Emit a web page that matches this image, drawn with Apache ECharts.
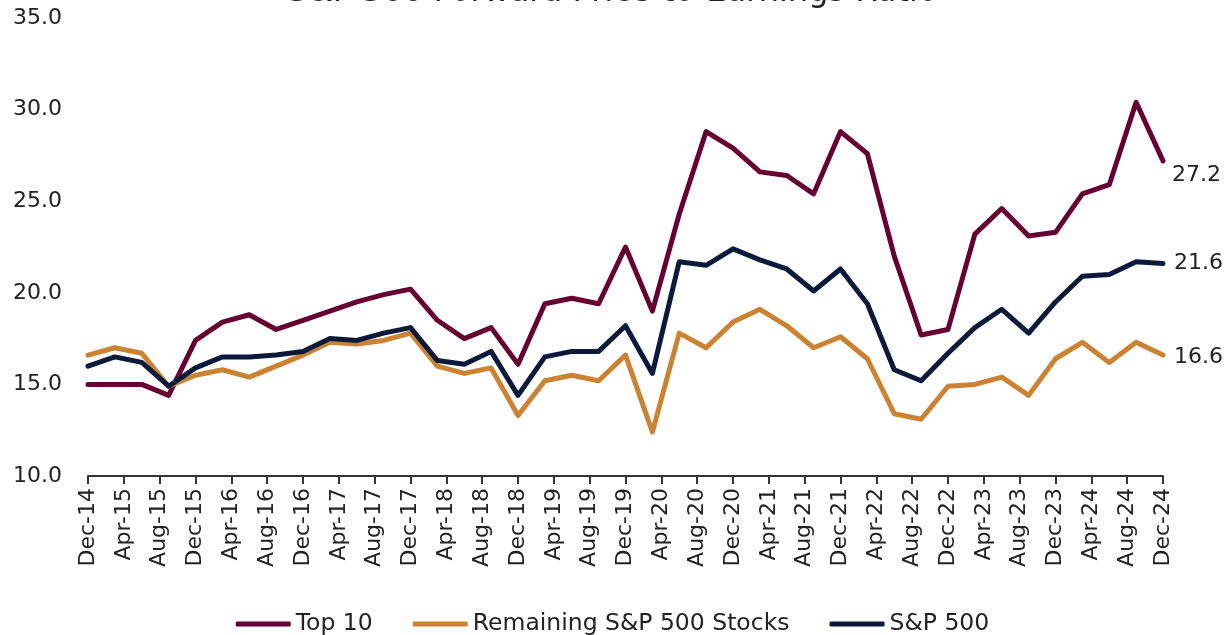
<!DOCTYPE html>
<html>
<head>
<meta charset="utf-8">
<title>S&amp;P 500 Forward Price-to-Earnings Ratio</title>
<script src="https://cdn.jsdelivr.net/npm/echarts@6/dist/echarts.min.js"></script>
<style>
  html, body { margin: 0; padding: 0; background: #fff; }
  #chart { width: 1225px; height: 635px; }
</style>
</head>
<body>
<div id="chart"></div>
<script>
// x axis tick labels, every 4 months from Dec-14 to Dec-24
var tickLabels = [
  'Dec-14', 'Apr-15', 'Aug-15', 'Dec-15', 'Apr-16', 'Aug-16', 'Dec-16', 'Apr-17',
  'Aug-17', 'Dec-17', 'Apr-18', 'Aug-18', 'Dec-18', 'Apr-19', 'Aug-19', 'Dec-19',
  'Apr-20', 'Aug-20', 'Dec-20', 'Apr-21', 'Aug-21', 'Dec-21', 'Apr-22', 'Aug-22',
  'Dec-22', 'Apr-23', 'Aug-23', 'Dec-23', 'Apr-24', 'Aug-24', 'Dec-24'
];

// quarterly values, Dec-14 .. Dec-24 (41 quarters)
var top10 = [
  15.0, 15.0, 15.0, 14.4, 17.4, 18.4, 18.8, 18.0, 18.5, 19.0, 19.5, 19.9, 20.2, 18.5,
  17.5, 18.1, 16.1, 19.4, 19.7, 19.4, 22.5, 19.0, 24.3, 28.8, 27.9, 26.6, 26.4, 25.4,
  28.8, 27.6, 22.0, 17.7, 18.0, 23.2, 24.6, 23.1, 23.3, 25.4, 25.9, 30.4, 27.2
];
var remaining = [
  16.6, 17.0, 16.7, 14.9, 15.5, 15.8, 15.4, 16.0, 16.6, 17.3, 17.2, 17.4, 17.8, 16.0,
  15.6, 15.9, 13.3, 15.2, 15.5, 15.2, 16.6, 12.4, 17.8, 17.0, 18.4, 19.1, 18.2, 17.0,
  17.6, 16.4, 13.4, 13.1, 14.9, 15.0, 15.4, 14.4, 16.4, 17.3, 16.2, 17.3, 16.6
];
var sp500 = [
  16.0, 16.5, 16.2, 14.9, 15.9, 16.5, 16.5, 16.6, 16.8, 17.5, 17.4, 17.8, 18.1, 16.3,
  16.1, 16.8, 14.4, 16.5, 16.8, 16.8, 18.2, 15.6, 21.7, 21.5, 22.4, 21.8, 21.3, 20.1,
  21.3, 19.4, 15.8, 15.2, 16.7, 18.1, 19.1, 17.8, 19.5, 20.9, 21.0, 21.7, 21.6
];

// months since Dec-14 for each quarter
function toPoints(arr) {
  return arr.map(function (v, i) { return [i * 3, v]; });
}

var FONT = 'DejaVu Sans';
var TEXT = '#222222';

function makeSeries(name, data, color, labelOffset) {
  return {
    name: name,
    type: 'line',
    data: toPoints(data),
    showSymbol: false,
    symbol: 'none',
    lineStyle: { color: color, width: 5, join: 'round', cap: 'round' },
    itemStyle: { color: color },
    endLabel: {
      show: true,
      formatter: function (p) { return p.value[1].toFixed(1); },
      color: TEXT,
      fontFamily: FONT,
      fontSize: 22,
      offset: labelOffset
    }
  };
}

var chart = echarts.init(document.getElementById('chart'), null, { renderer: 'canvas' });
var option = {
  animation: false,
  backgroundColor: '#ffffff',
  textStyle: { fontFamily: FONT },
  title: {
    text: 'S&P 500 Forward Price-to-Earnings Ratio',
    left: 'center',
    top: -28,
    textStyle: { fontFamily: FONT, fontSize: 32, fontWeight: 'normal', color: TEXT }
  },
  grid: { left: 88, right: 62, top: 18, bottom: 159 },
  legend: {
    top: 607,
    left: 'center',
    icon: 'roundRect',
    itemWidth: 55,
    itemHeight: 5,
    itemGap: 40,
    textStyle: { fontFamily: FONT, fontSize: 23.5, color: TEXT },
    data: ['Top 10', 'Remaining S&P 500 Stocks', 'S&P 500']
  },
  xAxis: {
    type: 'value',
    min: 0,
    max: 120,
    interval: 4,
    splitLine: { show: false },
    axisLine: { show: true, lineStyle: { color: '#333', width: 2 } },
    axisTick: { show: true, length: 8, lineStyle: { color: '#333', width: 2 } },
    axisLabel: {
      rotate: 90,
      fontFamily: FONT,
      fontSize: 22,
      color: TEXT,
      margin: 12,
      formatter: function (v) { return tickLabels[v / 4] || ''; }
    }
  },
  yAxis: {
    type: 'value',
    min: 10,
    max: 35,
    interval: 5,
    splitLine: { show: false },
    axisLine: { show: false },
    axisTick: { show: false },
    axisLabel: {
      fontFamily: FONT,
      fontSize: 22,
      color: TEXT,
      margin: 26,
      formatter: function (v) { return v.toFixed(1); }
    }
  },
  series: [
    makeSeries('Top 10', top10, '#660033', [1, 14]),
    makeSeries('Remaining S&P 500 Stocks', remaining, '#CB8232', [3, 2]),
    makeSeries('S&P 500', sp500, '#0B1A3A', [3, 0])
  ]
};
option && chart.setOption(option);
</script>
</body>
</html>
